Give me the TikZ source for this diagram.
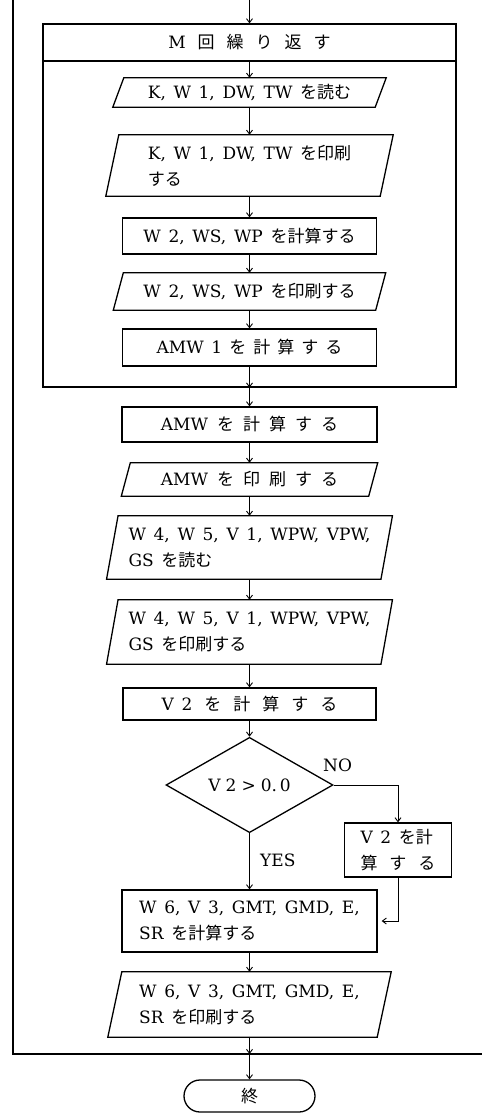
\documentclass[tikz,border=0pt]{standalone}
\usepackage{fontspec}
\setmainfont{DejaVu Serif}
\newfontfamily\cjk{Noto Sans CJK JP}[Scale=1.0]
\usetikzlibrary{shapes.geometric,arrows.meta}
\newcommand\J[1]{{\cjk #1}}
\newcommand\bodyfont{\fontsize{17}{26}\selectfont\spaceskip=0.45em\relax}
\newcommand\parapath[2]{\draw[lw] ([xshift=#2]#1.north west) -- ([xshift=#2]#1.north east) -- ([xshift=-#2]#1.south east) -- ([xshift=-#2]#1.south west) -- cycle;}
\tikzset{
  lw/.style={line width=1.3pt},
  box/.style={rectangle, draw, lw, inner sep=0pt, font=\bodyfont, align=center},
  pbox/.style={rectangle, draw=none, inner sep=0pt, font=\bodyfont, align=left},
  flow/.style={line width=0.9pt, -{Straight Barb[length=4pt,width=6pt]}},
  lbl/.style={font=\bodyfont, inner sep=0pt},
}
\begin{document}
\begin{tikzpicture}[x=1pt,y=-1pt]
\useasboundingbox (0,0) rectangle (482,1113);
% outer loop
\coordinate (o1) at (13,0);
\coordinate (o2) at (13,1054);
\coordinate (o3) at (482,1054);
\coordinate (ob) at (249.5,1054);
\coordinate (top) at (249.5,0);
\draw[lw] (o1) -- (o2) -- (o3);
% inner loop
\node[box, minimum width=413pt, minimum height=326pt] (loopbox) at (249.5,224) {};
\node[box, minimum width=413pt, minimum height=37pt] (hdr) at (249.5,42.5)
  {M\hspace{12pt}\J{回\hspace{12pt}繰\hspace{12pt}り\hspace{12pt}返\hspace{12pt}す}};
\node[pbox, minimum width=262pt, minimum height=29pt] (p1) at (249.5,92.5) {K, W 1, DW, TW \J{を読む}};
\parapath{p1}{5.5pt}
\node[pbox, minimum width=274pt, minimum height=61pt] (p2) at (249.5,165.5) {K, W 1, DW, TW \J{を印刷}\\\J{する}};
\parapath{p2}{6.5pt}
\node[box, minimum width=254pt, minimum height=36pt] (r1) at (249.5,236) {W 2, WS, WP \J{を計算する}};
\node[pbox, minimum width=262pt, minimum height=37pt] (p3) at (249.5,291.5) {W 2, WS, WP \J{を印刷する}};
\parapath{p3}{5pt}
\node[box, minimum width=254pt, minimum height=37pt] (r2) at (249.5,347.5)
  {AMW 1\hspace{7pt}\J{を\hspace{7pt}計\hspace{7pt}算\hspace{7pt}す\hspace{7pt}る}};
% after loop
\node[box, minimum width=255pt, minimum height=35pt] (r3) at (249.5,424.5)
  {AMW\hspace{9pt}\J{を\hspace{9pt}計\hspace{9pt}算\hspace{9pt}す\hspace{9pt}る}};
\node[pbox, minimum width=247pt, minimum height=33pt] (p4) at (249.5,479.5)
  {AMW\hspace{9pt}\J{を\hspace{9pt}印\hspace{9pt}刷\hspace{9pt}す\hspace{9pt}る}};
\parapath{p4}{4.5pt}
\node[pbox, minimum width=274pt, minimum height=63pt] (p5) at (249.5,547.5) {W 4, W 5, V 1, WPW, VPW,\\GS \J{を読む}};
\parapath{p5}{5.75pt}
\node[pbox, minimum width=274pt, minimum height=64pt] (p6) at (249.5,632) {W 4, W 5, V 1, WPW, VPW,\\GS \J{を印刷する}};
\parapath{p6}{5.75pt}
\node[box, minimum width=253pt, minimum height=32pt] (r4) at (249.5,704)
  {V 2\hspace{12pt}\J{を\hspace{12pt}計\hspace{12pt}算\hspace{12pt}す\hspace{12pt}る}};
\node[diamond, draw, lw, inner sep=0pt, minimum width=167pt, minimum height=94pt, font=\bodyfont] (d) at (249.5,785) {\spaceskip=0.3em V 2 > 0.\,0};
\node[box, align=left, minimum width=107pt, minimum height=54pt] (nobox) at (398,850)
  {V 2 \J{を計}\\\J{算\hspace{12pt}す\hspace{12pt}る}};
\node[box, align=left, minimum width=255pt, minimum height=62pt] (r5) at (249.5,921) {W 6, V 3, GMT, GMD, E,\\SR \J{を計算する}};
\node[pbox, minimum width=269pt, minimum height=65pt] (p7) at (249.5,1004.5) {W 6, V 3, GMT, GMD, E,\\SR \J{を印刷する}};
\parapath{p7}{7pt}
\node[rectangle, draw, lw, rounded corners=16pt, minimum width=131pt, minimum height=32pt, inner sep=0pt, font=\bodyfont] (term) at (249.5,1096) {\J{終}};
% labels
\node[lbl, anchor=west] (no) at (323,765) {NO};
\node[lbl, anchor=west] (yes) at (260,860) {YES};
% connectors
\draw[flow] (top) -- (hdr.north);
\draw[flow] (hdr.south) -- (p1.north);
\draw[flow] (p1.south) -- (p2.north);
\draw[flow] (p2.south) -- (r1.north);
\draw[flow] (r1.south) -- (p3.north);
\draw[flow] (p3.south) -- (r2.north);
\draw[flow] (r2.south) -- (loopbox.south);
\draw[flow] (loopbox.south) -- (r3.north);
\draw[flow] (r3.south) -- (p4.north);
\draw[flow] (p4.south) -- (p5.north);
\draw[flow] (p5.south) -- (p6.north);
\draw[flow] (p6.south) -- (r4.north);
\draw[flow] (r4.south) -- (d.north);
\draw[flow] (d.east) -| (nobox.north);
\draw[flow] (d.south) -- (r5.north);
\draw[flow, shorten >=4pt] (nobox.south) |- (r5.east);
\draw[flow] (r5.south) -- (p7.north);
\draw[flow] (p7.south) -- (ob);
\draw[flow] (ob) -- (term.north);
\end{tikzpicture}
\end{document}
